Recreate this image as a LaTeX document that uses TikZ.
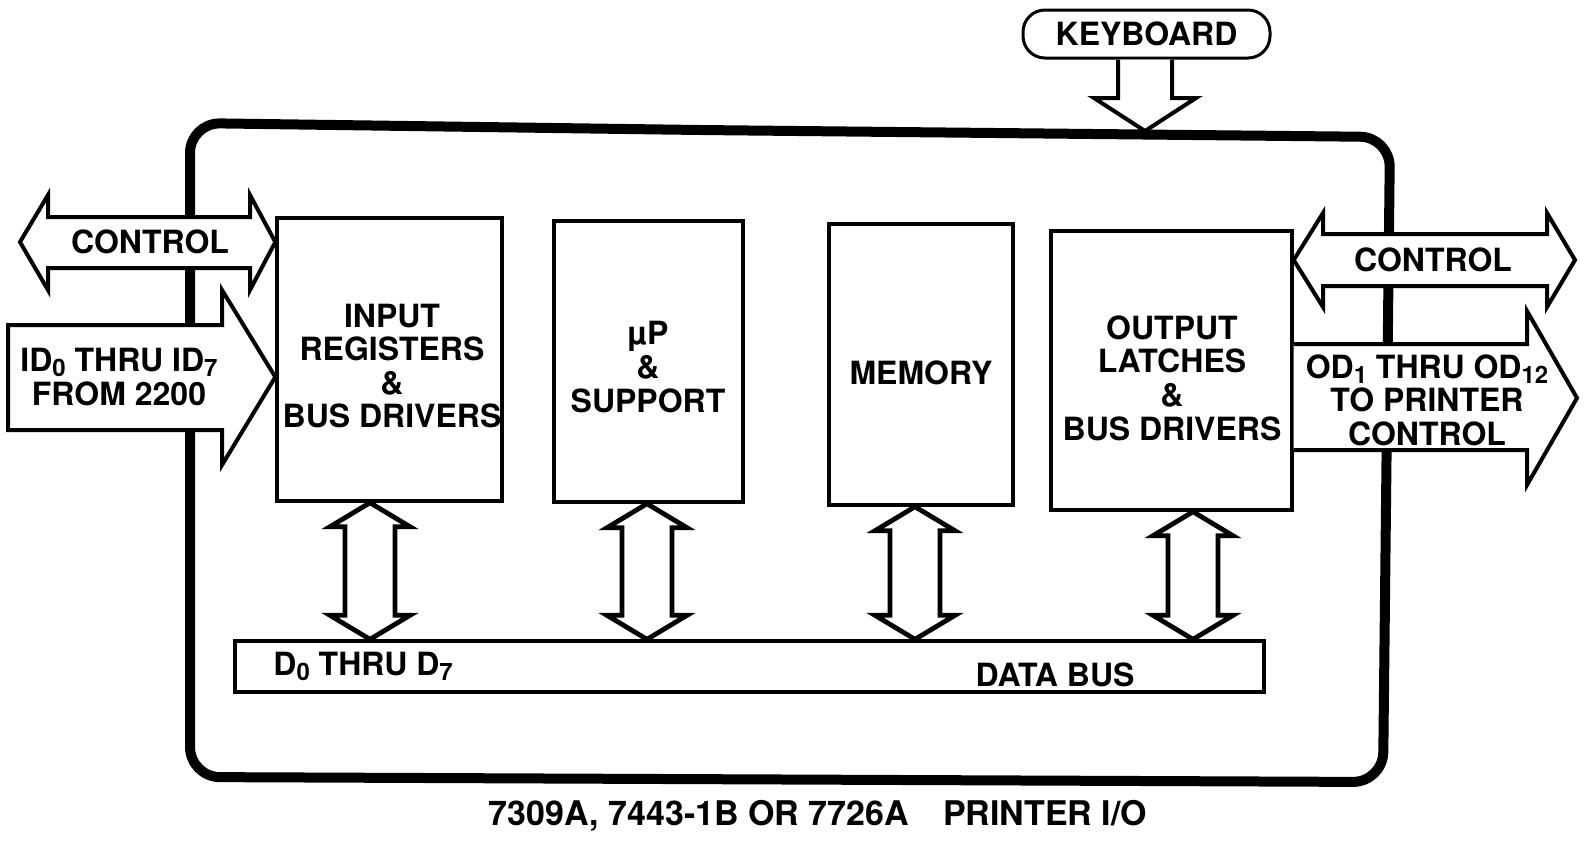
\documentclass[tikz,border=0pt]{standalone}
\usepackage{fontspec}
\setmainfont{TeX Gyre Heros}
\usetikzlibrary{calc}
\newcommand{\mysub}[1]{\raisebox{-2.5pt}{\fontsize{12}{12}\selectfont #1}}
\begin{document}
\begin{tikzpicture}[x=0.5pt,y=-0.5pt,
  lbl/.style={font=\fontsize{16}{16.8}\selectfont\bfseries, align=center, inner sep=0pt},
  blockbox/.style={draw, line width=1.7pt, inner sep=0pt},
  blockarrow/.style={draw, fill=white, line width=2pt},
  busarrow/.style={draw, fill=white, line width=2.4pt},
  outerbox/.style={draw, line width=5pt, rounded corners=15pt}
]
\useasboundingbox (0,0) rectangle (1585,843);

% outer enclosure
\draw[outerbox] (700,130) -- (1390,137) -- (1383,782) -- (190,777) -- (190,123) -- cycle;

% functional blocks
\node[blockbox, minimum width=112.5pt, minimum height=141.5pt] (inreg) at (389.5,359.5) {};
\node[blockbox, minimum width=94.5pt, minimum height=140.5pt] (up) at (648.5,361.5) {};
\node[blockbox, minimum width=92pt, minimum height=140.5pt] (mem) at (921,364.5) {};
\node[blockbox, minimum width=120.5pt, minimum height=139.5pt] (outl) at (1171.5,370.5) {};
\node[blockbox, minimum width=514.5pt, minimum height=25.5pt] (bus) at (749.5,666.5) {};
\node[draw, line width=1.5pt, rounded corners=11pt, minimum width=123.5pt, minimum height=24pt, inner sep=0pt] (kbd) at (1146.5,34) {};

% x positions of the bus connectors
\coordinate (c1) at (370,0);
\coordinate (c2) at (647,0);
\coordinate (c3) at (915,0);
\coordinate (c4) at (1193,0);

% vertical bus arrows (block to data bus)
\foreach \blk/\cx in {inreg/c1, up/c2, mem/c3, outl/c4}{
  \coordinate (T) at (\blk.south -| \cx);
  \coordinate (B) at (bus.north -| \cx);
  \draw[busarrow] (T) -- ++(40,24) -- ++(-15,0) -- ($(B)+(25,-24)$) -- ++(15,0)
     -- (B) -- ++(-40,-24) -- ++(15,0) -- ($(T)+(-25,24)$) -- ++(-15,0) -- cycle;
}

% keyboard arrow
\draw[blockarrow] (kbd.south -| 1118,0) -- (1118,98) -- (1094,98) -- (1145,131)
   -- (1196,98) -- (1172,98) -- (kbd.south -| 1172,0);

% left control arrow
\draw[blockarrow] (20,242) -- (48,195) -- (48,217) -- (250,217) -- (250,195)
   -- (inreg.west |- 0,242) -- (250,290) -- (250,268) -- (48,268) -- (48,290) -- cycle;

% ID input arrow
\draw[blockarrow] (8,325) -- (222,325) -- (222,290) -- (inreg.west |- 0,377)
   -- (222,465) -- (222,430) -- (8,430) -- cycle;

% right control arrow
\draw[blockarrow] (outl.east |- 0,260) -- (1323,213) -- (1323,234) -- (1547,234) -- (1547,213)
   -- (1575,260) -- (1547,307) -- (1547,286) -- (1323,286) -- (1323,307) -- cycle;

% OD output arrow
\draw[blockarrow] (outl.east |- 0,344) -- (1527,344) -- (1527,311) -- (1577,398)
   -- (1527,485) -- (1527,450) -- (outl.east |- 0,450);

% texts
\node[lbl] (tkbd) at (kbd.center) {KEYBOARD};
\node[lbl] (tctl1) at (150,242) {CONTROL};
\node[lbl] (tid) at (119,377) {ID\mysub{0} THRU ID\mysub{7}\\FROM 2200};
\node[lbl] (tinreg) at (392,366) {INPUT\\REGISTERS\\\&\\BUS DRIVERS};
\node[lbl] (tup) at (648,367) {µP\\\&\\SUPPORT};
\node[lbl] (tmem) at (921,373) {MEMORY};
\node[lbl] (toutl) at (1172,378) {OUTPUT\\LATCHES\\\&\\BUS DRIVERS};
\node[lbl] (tctl2) at (1433,260) {CONTROL};
\node[lbl] (tod) at (1427,400) {OD\mysub{1} THRU OD\mysub{12}\\TO PRINTER\\CONTROL};
\node[lbl, anchor=base west] (tbus1) at (273,675) {D\mysub{0} THRU D\mysub{7}};
\node[lbl] (tbus2) at (1055,675) {DATA BUS};
\node[lbl, font=\fontsize{17}{20}\selectfont\bfseries] (tcap) at (818,816) {7309A, 7443-1B OR 7726A\quad PRINTER I/O};
\end{tikzpicture}
\end{document}
